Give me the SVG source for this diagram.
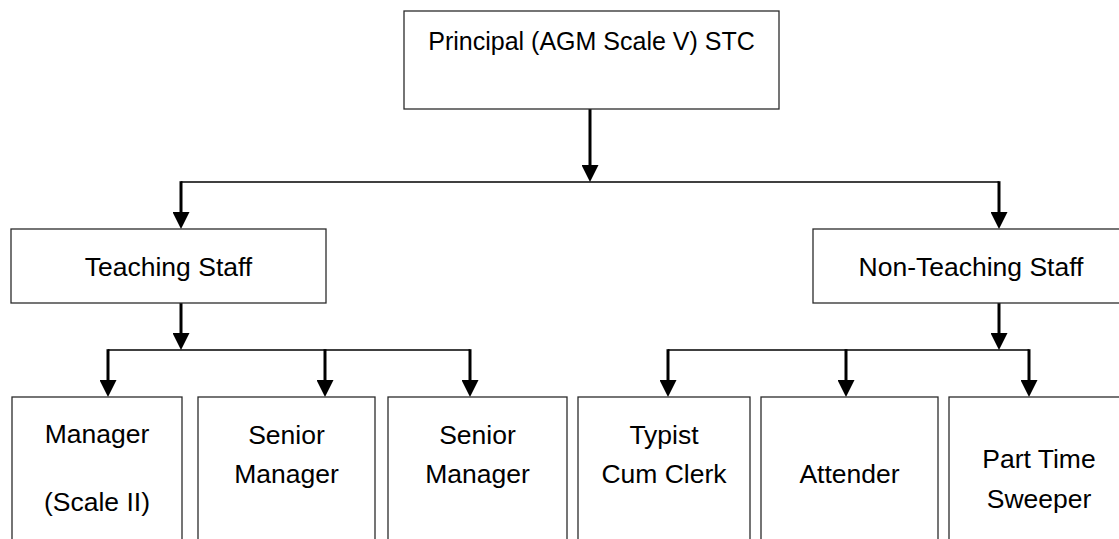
<svg xmlns="http://www.w3.org/2000/svg" width="1119" height="539" viewBox="0 0 1119 539">
  <style>
    .box { fill: #ffffff; stroke: #2b2b2b; stroke-width: 1.3; }
    .t { font-family: "Liberation Sans", Arial, sans-serif; font-size: 25px; fill: #000; text-anchor: middle; }
    .tm { font-family: "Liberation Sans", Arial, sans-serif; font-size: 26.5px; fill: #000; text-anchor: middle; }
    .tb { font-family: "Liberation Sans", Arial, sans-serif; font-size: 26.5px; fill: #000; text-anchor: middle; }
    .h { stroke: #000; stroke-width: 1.6; fill: none; }
    .a { stroke: #000; stroke-width: 3; fill: none; marker-end: url(#arr); }
  </style>
  <defs>
    <marker id="arr" viewBox="0 0 17 17" refX="8" refY="8.5" markerWidth="17" markerHeight="17" markerUnits="userSpaceOnUse" orient="auto">
      <path d="M0,0 L17,8.5 L0,17 z" fill="#000"/>
    </marker>
  </defs>
  <rect width="1119" height="539" fill="#ffffff"/>

  <g id="connectors">
    <line class="a" x1="590" y1="109" x2="590" y2="173"/>
    <line class="h" x1="181" y1="182" x2="999" y2="182"/>
    <line class="a" x1="181" y1="181.2" x2="181" y2="220"/>
    <line class="a" x1="999" y1="181.2" x2="999" y2="220"/>
    <line class="a" x1="181" y1="303" x2="181" y2="341"/>
    <line class="h" x1="108" y1="350" x2="470" y2="350"/>
    <line class="a" x1="108" y1="349.2" x2="108" y2="388"/>
    <line class="a" x1="325" y1="349.2" x2="325" y2="388"/>
    <line class="a" x1="470" y1="349.2" x2="470" y2="388"/>
    <line class="a" x1="999" y1="303" x2="999" y2="341"/>
    <line class="h" x1="668" y1="350" x2="1029" y2="350"/>
    <line class="a" x1="668" y1="349.2" x2="668" y2="388"/>
    <line class="a" x1="846" y1="349.2" x2="846" y2="388"/>
    <line class="a" x1="1029" y1="349.2" x2="1029" y2="388"/>
  </g>

  <g id="principal">
    <rect class="box" x="404" y="11" width="375" height="98"/>
    <text class="t" x="591.5" y="50">Principal (AGM Scale V) STC</text>
  </g>
  <g id="teaching-staff">
    <rect class="box" x="11" y="229" width="315" height="74"/>
    <text class="tm" x="168.5" y="276">Teaching Staff</text>
  </g>
  <g id="non-teaching-staff">
    <rect class="box" x="813" y="229" width="317" height="74"/>
    <text class="tm" x="971" y="276">Non-Teaching Staff</text>
  </g>
  <g id="manager">
    <rect class="box" x="12" y="397" width="170" height="160"/>
    <text class="tb" x="97" y="443">Manager</text>
    <text class="tb" x="97" y="511">(Scale II)</text>
  </g>
  <g id="senior-manager-1">
    <rect class="box" x="198" y="397" width="177" height="160"/>
    <text class="tb" x="286.5" y="444">Senior</text>
    <text class="tb" x="286.5" y="483">Manager</text>
  </g>
  <g id="senior-manager-2">
    <rect class="box" x="388" y="397" width="179" height="160"/>
    <text class="tb" x="477.5" y="444">Senior</text>
    <text class="tb" x="477.5" y="483">Manager</text>
  </g>
  <g id="typist-cum-clerk">
    <rect class="box" x="578" y="397" width="172" height="160"/>
    <text class="tb" x="664" y="444">Typist</text>
    <text class="tb" x="664" y="483">Cum Clerk</text>
  </g>
  <g id="attender">
    <rect class="box" x="761" y="397" width="177" height="160"/>
    <text class="tb" x="849.5" y="483">Attender</text>
  </g>
  <g id="part-time-sweeper">
    <rect class="box" x="949" y="397" width="181" height="160"/>
    <text class="tb" x="1039" y="468">Part Time</text>
    <text class="tb" x="1039" y="508">Sweeper</text>
  </g>
</svg>
